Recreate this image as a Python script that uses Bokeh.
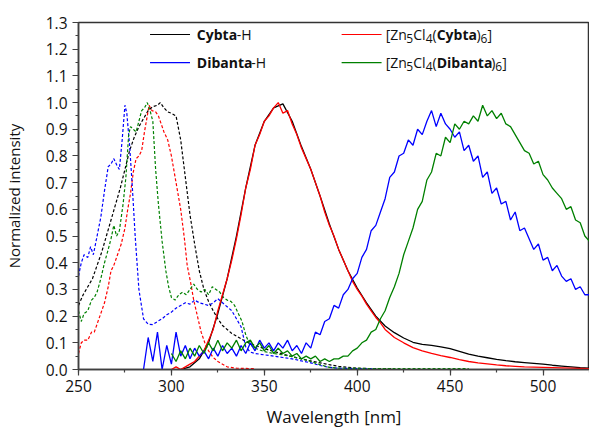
from bokeh.plotting import figure
from bokeh.models import Range1d, FixedTicker, PrintfTickFormatter, Label, Arrow
from bokeh.embed import file_html
from bokeh.resources import INLINE

# ---------------- data ----------------
X_TICKS = [250, 300, 350, 400, 450, 500]
X_MINOR = [250, 275, 300, 325, 350, 375, 400, 425, 450, 475, 500, 525]
Y_TICKS = [0.0, 0.1, 0.2, 0.3, 0.4, 0.5, 0.6, 0.7, 0.8, 0.9, 1.0, 1.1, 1.2, 1.3]
Y_MINOR = [0.05, 0.15, 0.25, 0.35, 0.45, 0.55, 0.65, 0.75, 0.85, 0.95, 1.05, 1.15, 1.25]

# --- excitation (dashed) ---
cyb_exc_x = [250, 252.5, 255, 257.5, 260, 262.5, 265, 267.5, 270, 272.5, 275, 277.5, 280, 282.5,
             285, 287.5, 290, 292.5, 294, 296, 298, 300, 302.5, 305, 307.5, 310, 312.5, 315,
             317.5, 320, 322.5, 325, 327.5, 330, 332.5, 335, 337.5, 340, 345, 350, 355, 360,
             365, 370, 375, 380, 385, 390, 395, 400, 410, 420]
cyb_exc_y = [0.24, 0.28, 0.31, 0.34, 0.39, 0.44, 0.50, 0.56, 0.62, 0.68, 0.75, 0.82, 0.87, 0.91,
             0.94, 0.97, 0.985, 0.99, 1.0, 0.98, 0.965, 0.96, 0.95, 0.86, 0.72, 0.58, 0.47, 0.37,
             0.30, 0.255, 0.22, 0.19, 0.165, 0.15, 0.135, 0.125, 0.115, 0.105, 0.09, 0.078, 0.068, 0.058,
             0.048, 0.04, 0.032, 0.025, 0.018, 0.012, 0.008, 0.005, 0.003, 0.002]

zncyb_exc_x = [250, 251.5, 253, 255, 257, 258.5, 260, 262, 264, 266, 267.5, 269, 271, 273, 275,
               276.5, 278, 279.5, 281, 282.5, 284, 285.5, 287, 288, 289.5, 291.5, 293, 294.5, 296,
               298, 300, 301.5, 303, 305, 307, 308.5, 310.5, 312, 314, 316, 318, 320, 322.5, 325,
               327.5, 330, 335, 345]
zncyb_exc_y = [0.06, 0.10, 0.11, 0.11, 0.14, 0.14, 0.17, 0.21, 0.25, 0.31, 0.37, 0.39, 0.43, 0.47, 0.53,
               0.60, 0.66, 0.74, 0.79, 0.80, 0.82, 0.89, 0.95, 0.99, 0.97, 0.965, 0.95, 0.92, 0.89,
               0.86, 0.80, 0.74, 0.68, 0.60, 0.49, 0.39, 0.32, 0.26, 0.20, 0.14, 0.10, 0.07, 0.045, 0.03,
               0.02, 0.01, 0.005, 0.003]

dib_exc_x = [250, 251.5, 253, 255, 256.5, 258, 260, 262, 264, 266, 267.5, 269, 271, 272, 273.5, 275,
             276, 277.5, 279, 280.5, 282.5, 285, 287.5, 290, 292.5, 295, 297.5, 300, 302.5, 305,
             307.5, 310, 312.5, 315, 317.5, 320, 322.5, 325, 327.5, 330, 332.5, 335, 337.5, 340,
             342.5, 345, 350, 355, 360, 365, 370, 375, 380, 385, 390, 400, 410]
dib_exc_y = [0.35, 0.40, 0.43, 0.42, 0.46, 0.43, 0.50, 0.57, 0.67, 0.76, 0.77, 0.79, 0.76, 0.75, 0.86, 0.99,
             0.96, 0.84, 0.68, 0.50, 0.30, 0.19, 0.17, 0.168, 0.18, 0.19, 0.205, 0.215, 0.23, 0.24,
             0.25, 0.245, 0.26, 0.25, 0.245, 0.24, 0.25, 0.265, 0.25, 0.235, 0.22, 0.19, 0.16, 0.085,
             0.065, 0.06, 0.055, 0.05, 0.045, 0.04, 0.032, 0.025, 0.015, 0.008, 0.005, 0.003, 0.002]

zndib_exc_x = [250, 251.5, 253, 255, 257, 258.5, 260, 262, 264, 266, 267.5, 269, 270.5, 272, 274,
               275.5, 277, 278, 279.5, 281, 282.5, 284, 285.5, 287, 288.5, 290, 291.5, 293, 295,
               297, 298.5, 300, 302, 304, 306, 308, 310, 312, 314, 316, 318, 320, 322, 324, 326,
               328, 330, 332, 334, 336, 338, 340, 342, 345, 350, 355, 360, 365, 370, 375, 380,
               385, 390, 400, 420, 440, 460]
zndib_exc_y = [0.22, 0.18, 0.21, 0.22, 0.26, 0.27, 0.29, 0.34, 0.40, 0.45, 0.49, 0.54, 0.50, 0.52, 0.62,
               0.72, 0.88, 0.91, 0.90, 0.89, 0.93, 0.97, 0.98, 1.0, 0.97, 0.93, 0.75, 0.62, 0.48,
               0.37, 0.31, 0.27, 0.26, 0.28, 0.29, 0.28, 0.30, 0.32, 0.30, 0.29, 0.30, 0.28, 0.31, 0.30, 0.29,
               0.27, 0.26, 0.255, 0.24, 0.21, 0.18, 0.13, 0.095, 0.08, 0.067, 0.06, 0.055, 0.048, 0.04, 0.03, 0.018,
               0.008, 0.005, 0.004, 0.003, 0.003, 0.003]

# --- emission (solid) ---
cyb_em_x = [305, 310, 315, 320, 325, 330, 335, 340, 345, 350, 355, 360, 365, 370, 375, 380, 385,
            390, 395, 400, 405, 410, 415, 420, 425, 430, 435, 440, 445, 450, 455, 460, 465, 470,
            475, 480, 485, 490, 495, 500, 505, 510, 515, 520, 525]
cyb_em_y = [0.00, 0.01, 0.04, 0.10, 0.21, 0.34, 0.50, 0.68, 0.84, 0.93, 0.98, 0.995, 0.93, 0.835, 0.75,
            0.65, 0.545, 0.45, 0.37, 0.305, 0.25, 0.20, 0.163, 0.138, 0.118, 0.102, 0.094, 0.09, 0.085,
            0.078, 0.068, 0.058, 0.05, 0.044, 0.038, 0.033, 0.029, 0.026, 0.023, 0.02, 0.016, 0.013,
            0.01, 0.007, 0.005]

zncyb_em_x = [300, 302.5, 305, 307.5, 310, 312.5, 315, 317.5, 320, 322.5, 325, 327.5, 330, 332.5, 335,
              337.5, 340, 342.5, 345, 347.5, 350, 352.5, 355, 357.5, 360, 362.5, 365, 367.5, 370,
              372.5, 375, 377.5, 380, 382.5, 385, 387.5, 390, 392.5, 395, 397.5, 400, 402.5, 405,
              407.5, 410, 412.5, 415, 417.5, 420, 425, 430, 435, 440, 445, 450, 455, 460, 465, 470,
              475, 480, 485, 490, 495, 500, 505, 510, 515, 520, 525]
zncyb_em_y = [0.00, 0.01, 0.00, 0.01, 0.02, 0.03, 0.05, 0.07, 0.11, 0.15, 0.22, 0.28, 0.34, 0.41, 0.49,
              0.58, 0.68, 0.75, 0.84, 0.88, 0.93, 0.95, 0.98, 1.00, 0.96, 0.97, 0.92, 0.88, 0.83,
              0.79, 0.75, 0.70, 0.65, 0.59, 0.54, 0.50, 0.45, 0.41, 0.37, 0.33, 0.30, 0.275, 0.245,
              0.22, 0.195, 0.175, 0.15, 0.135, 0.12, 0.10, 0.082, 0.07, 0.06, 0.052, 0.045, 0.037, 0.03,
              0.025, 0.021, 0.017, 0.014, 0.012, 0.01, 0.009, 0.008, 0.007, 0.006, 0.005, 0.004, 0.003]

dib_em_x = [285 + 2.5 * i for i in range(97)]
dib_em_y = [0.00, 0.12, 0.03, 0.14, 0.00, 0.09, 0.02, 0.14, 0.05, 0.09, 0.04, 0.08, 0.05, 0.07, 0.04,
            0.08, 0.05, 0.09, 0.06, 0.08, 0.05, 0.09, 0.06, 0.10, 0.07, 0.11, 0.08, 0.10, 0.07, 0.10,
            0.08, 0.11, 0.07, 0.09, 0.06, 0.10, 0.08, 0.14, 0.13, 0.18, 0.19, 0.24, 0.23, 0.28, 0.30,
            0.34, 0.36, 0.42, 0.45, 0.52, 0.54, 0.59, 0.64, 0.72, 0.74, 0.80, 0.81, 0.86, 0.84, 0.90,
            0.88, 0.93, 0.97, 0.91, 0.96, 0.92, 0.90, 0.87, 0.89, 0.82, 0.84, 0.78, 0.80, 0.72, 0.74,
            0.66, 0.68, 0.62, 0.63, 0.56, 0.59, 0.52, 0.53, 0.49, 0.45, 0.47, 0.41, 0.42, 0.37, 0.39,
            0.35, 0.33, 0.34, 0.30, 0.31, 0.28, 0.28]

zndib_em_x = [300 + 2.5 * i for i in range(91)]
zndib_em_y = [0.06, 0.03, 0.07, 0.04, 0.08, 0.05, 0.09, 0.06, 0.10, 0.07, 0.11, 0.07, 0.10, 0.08, 0.11,
              0.07, 0.10, 0.11, 0.08, 0.10, 0.07, 0.09, 0.06, 0.08, 0.06, 0.07, 0.05, 0.06, 0.04, 0.05,
              0.04, 0.05, 0.03, 0.04, 0.03, 0.04, 0.04, 0.05, 0.05, 0.07, 0.08, 0.10, 0.11, 0.14, 0.15,
              0.19, 0.22, 0.27, 0.31, 0.36, 0.43, 0.48, 0.53, 0.60, 0.63, 0.71, 0.74, 0.81, 0.80, 0.87,
              0.85, 0.92, 0.90, 0.93, 0.92, 0.95, 0.93, 0.99, 0.95, 0.97, 0.94, 0.96, 0.92, 0.91, 0.88,
              0.85, 0.82, 0.81, 0.77, 0.78, 0.73, 0.71, 0.68, 0.66, 0.64, 0.60, 0.61, 0.56, 0.55, 0.50,
              0.48]

BLACK, RED, BLUE, GREEN = "#000000", "#ff0000", "#0000ff", "#008000"
FONT = "Open Sans"

# ---------------- figure ----------------
p = figure(width=589, height=430, output_backend="svg", toolbar_location=None,
           x_range=Range1d(250, 525), y_range=Range1d(0, 1.3),
           min_border_left=78, min_border_right=0, min_border_top=22, min_border_bottom=61)
p.background_fill_color = "white"
p.border_fill_color = "white"
p.outline_line_color = "#333333"
p.outline_line_width = 1.5
p.xgrid.visible = False
p.ygrid.visible = False

# dashed excitation spectra
dash = "3 2"
p.line(cyb_exc_x, cyb_exc_y, line_color=BLACK, line_width=1.2, line_dash=dash)
p.line(zncyb_exc_x, zncyb_exc_y, line_color=RED, line_width=1.2, line_dash=dash)
p.line(dib_exc_x, dib_exc_y, line_color=BLUE, line_width=1.2, line_dash=dash)
p.line(zndib_exc_x, zndib_exc_y, line_color=GREEN, line_width=1.2, line_dash=dash)

# solid emission spectra
p.line(cyb_em_x, cyb_em_y, line_color=BLACK, line_width=1.3)
p.line(zncyb_em_x, zncyb_em_y, line_color=RED, line_width=1.3)
p.line(dib_em_x, dib_em_y, line_color=BLUE, line_width=1.3)
p.line(zndib_em_x, zndib_em_y, line_color=GREEN, line_width=1.3)

# axes
for ax in (p.xaxis[0], p.yaxis[0]):
    ax.axis_line_color = "#404040"
    ax.axis_line_width = 1.5
    ax.major_tick_line_color = "#404040"
    ax.minor_tick_line_color = "#404040"
    ax.major_tick_line_width = 1.2
    ax.minor_tick_line_width = 1.2
    ax.major_tick_in = 0
    ax.major_tick_out = 6
    ax.minor_tick_in = 0
    ax.minor_tick_out = 3
    ax.major_label_text_font = FONT
    ax.major_label_text_font_size = "15.5px"
    ax.major_label_text_color = "#111111"
    ax.axis_label_text_font = FONT
    ax.axis_label_text_font_style = "normal"
    ax.axis_label_text_color = "#111111"

p.xaxis[0].axis_label_text_font_size = "17px"
p.yaxis[0].axis_label_text_font_size = "15px"
p.xaxis[0].ticker = FixedTicker(ticks=X_TICKS, minor_ticks=X_MINOR)
p.yaxis[0].ticker = FixedTicker(ticks=Y_TICKS, minor_ticks=Y_MINOR)
p.yaxis[0].formatter = PrintfTickFormatter(format="%.1f")
p.xaxis[0].axis_label = "Wavelength [nm]"
p.yaxis[0].axis_label = "Normalized intensity"
p.xaxis[0].major_label_standoff = 4
p.yaxis[0].major_label_standoff = 5
p.xaxis[0].axis_label_standoff = 10
p.yaxis[0].axis_label_standoff = 19

# ---------------- legend (rich text built from pieces) ----------------
LEG_ROWS = [1.255, 1.15]
LEG_COLS = [(288.5, 310.0, 313.7), (391.6, 413.1, 415.3)]
FS = 14.0
SUB = 12.0
# approximate advance widths of Open Sans (em)
W_REG = {"[": .303, "]": .303, "Z": .561, "n": .614, "C": .633, "l": .258, "(": .295, ")": .295,
         "-": .322, "H": .738, "d": .614}
W_BOLD = {"C": .64, "y": .56, "b": .63, "t": .42, "a": .59, "D": .73, "i": .29, "n": .64}
W_DIGIT = .572


def piece_width(txt, kind):
    if kind == "sub":
        return W_DIGIT * SUB * len(txt)
    table = W_BOLD if kind == "bold" else W_REG
    return sum(table.get(ch, .56) for ch in txt) * FS


def rich(x, y, pieces):
    off = 0.0
    for txt, kind in pieces:
        p.add_layout(Label(x=x, y=y, x_offset=off, y_offset=(-4 if kind == "sub" else 0),
                           text=txt, text_font=FONT,
                           text_font_size=("%.1fpx" % (SUB if kind == "sub" else FS)),
                           text_font_style=("bold" if kind == "bold" else "normal"),
                           text_color="#111111", text_baseline="middle", text_align="left"))
        off += piece_width(txt, kind)


def legend_line(col, row, color):
    x0, x1, _ = LEG_COLS[col]
    p.add_layout(Arrow(x_start=x0, x_end=x1, y_start=LEG_ROWS[row], y_end=LEG_ROWS[row],
                       start=None, end=None, line_color=color, line_width=1.2))


legend_line(0, 0, BLACK)
rich(LEG_COLS[0][2], LEG_ROWS[0], [("Cybta", "bold"), ("-H", "reg")])
legend_line(0, 1, BLUE)
rich(LEG_COLS[0][2], LEG_ROWS[1], [("Dibanta", "bold"), ("-H", "reg")])
legend_line(1, 0, RED)
rich(LEG_COLS[1][2], LEG_ROWS[0], [("[Zn", "reg"), ("5", "sub"), ("Cl", "reg"), ("4", "sub"),
                                   ("(", "reg"), ("Cybta", "bold"), (")", "reg"), ("6", "sub"),
                                   ("]", "reg")])
legend_line(1, 1, GREEN)
rich(LEG_COLS[1][2], LEG_ROWS[1], [("[Zn", "reg"), ("5", "sub"), ("Cl", "reg"), ("4", "sub"),
                                   ("(", "reg"), ("Dibanta", "bold"), (")", "reg"), ("6", "sub"),
                                   ("]", "reg")])

open("out.html", "w").write(file_html(p, INLINE))
